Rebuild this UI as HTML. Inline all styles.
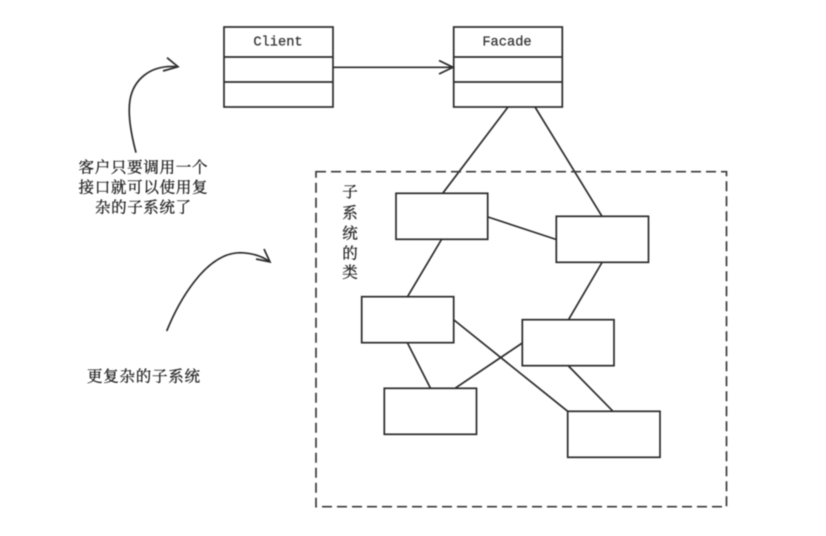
<!DOCTYPE html>
<html><head><meta charset="utf-8">
<style>
html,body{margin:0;padding:0;background:#fff}
svg{display:block}
.z{font-family:"Liberation Serif","Noto Serif CJK SC",serif;font-size:15.5px;fill:#222;stroke:#222;stroke-width:.3px;text-anchor:middle}
.m{font-family:"Liberation Mono",monospace;font-size:13.7px;fill:#333;stroke:#333;stroke-width:.25px;text-anchor:middle}
</style></head><body>
<svg width="826" height="536" viewBox="0 0 826 536" xmlns="http://www.w3.org/2000/svg" style="filter:blur(.45px)">
<rect width="826" height="536" fill="#fff"/>
<g fill="none" stroke="#2b2b2b" stroke-width="1.7">
<rect x="224" y="27" width="109" height="80"/>
<path d="M224 57H333M224 82H333"/>
<rect x="453.7" y="27" width="108.6" height="80"/>
<path d="M453.7 57H562.3M453.7 82H562.3"/>
<path d="M333 67.3H453M439 60.5L453 67.3L439 74"/>
<path d="M508 107L442.7 193.3M535 107L602 216.3M488 217L556.3 239.5M441.5 239.5L407.5 296.7M602 262.5L568.5 319.7M407.5 343L430.5 388.3M454 320L567.7 411.3M522.3 343L455 388.3M568.5 366L613 411.3"/>
<rect x="396" y="193.3" width="91.7" height="46"/>
<rect x="556.3" y="216.3" width="92.2" height="46"/>
<rect x="361.7" y="296.7" width="92" height="46"/>
<rect x="522.3" y="319.7" width="91.7" height="46"/>
<rect x="384.3" y="388.3" width="92.2" height="46"/>
<rect x="567.7" y="411.3" width="92.3" height="46"/>
<path d="M316 171.7H726.5V506.7H316Z" stroke="#3a3a3a" stroke-dasharray="10 5"/>
<path d="M136 152.7C130 130 128 112 130 100C133 82 148 64 178 66.7M167 57.7L178 66.7L163 71"/>
<path d="M166.7 331C178 303 205 253 240 252.7C252 253 262 256 270 262M264 249L270 262L256 259"/>
</g>
<text class="m" x="278" y="45.5">Client</text>
<text class="m" x="507" y="45.5">Facade</text>
<text class="z" x="143" y="172.5" textLength="129">客户只要调用一个</text>
<text class="z" x="143" y="192.5" textLength="129">接口就可以使用复</text>
<text class="z" x="143" y="212.5" textLength="96">杂的子系统了</text>
<text class="z" x="143.5" y="381.5" textLength="113">更复杂的子系统</text>
<text class="z" x="350" y="197">子</text>
<text class="z" x="350" y="218">系</text>
<text class="z" x="350" y="238.5">统</text>
<text class="z" x="350" y="258.5">的</text>
<text class="z" x="350" y="277.5">类</text>
</svg>
</body></html>
